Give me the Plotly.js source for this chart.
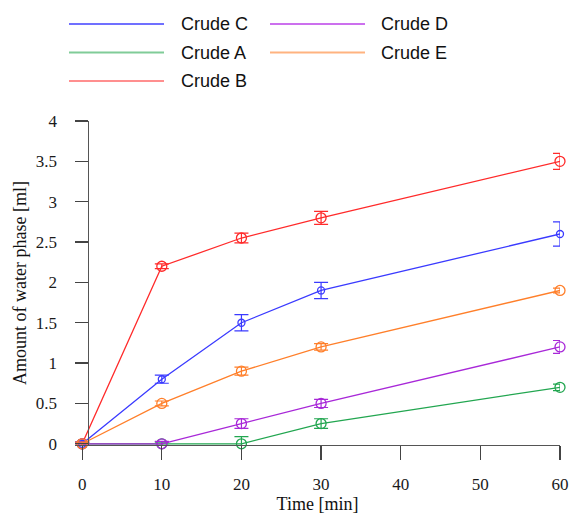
<!DOCTYPE html>
<html>
<head>
<meta charset="utf-8">
<script src="https://cdn.plot.ly/plotly-3.0.1.min.js"></script>
<style>html,body{margin:0;padding:0;background:#fff;}#chart{width:572px;height:515px;}</style>
</head>
<body>
<div id="chart"></div>
<script>
// Data
const timeMin = [0, 10, 20, 30, 60];

const crudeA = [0, 0, 0, 0.25, 0.7];
const crudeAErr = [0.02, 0.02, 0.09, 0.06, 0.04];

const crudeB = [0, 2.2, 2.55, 2.8, 3.5];
const crudeBErr = [0.02, 0.03, 0.06, 0.08, 0.1];

const crudeC = [0, 0.8, 1.5, 1.9, 2.6];
const crudeCErr = [0.02, 0.05, 0.1, 0.1, 0.15];

const crudeD = [0, 0, 0.25, 0.5, 1.2];
const crudeDErr = [0.02, 0.03, 0.06, 0.05, 0.08];

const crudeE = [0, 0.5, 0.9, 1.2, 1.9];
const crudeEErr = [0.02, 0.03, 0.05, 0.04, 0.03];

const xTicks = [0, 10, 20, 30, 40, 50, 60];
const yTicks = [0, 0.5, 1, 1.5, 2, 2.5, 3, 3.5, 4];
const yTickText = ['0', '0.5', '1', '1.5', '2', '2.5', '3', '3.5', '4'];

const series = [
  {name: 'Crude A', y: crudeA, err: crudeAErr, color: '#22a650', size: 10},
  {name: 'Crude B', y: crudeB, err: crudeBErr, color: '#ff2a2a', size: 10},
  {name: 'Crude C', y: crudeC, err: crudeCErr, color: '#3a3aff', size: 7},
  {name: 'Crude D', y: crudeD, err: crudeDErr, color: '#a828d8', size: 10},
  {name: 'Crude E', y: crudeE, err: crudeEErr, color: '#ff7f2a', size: 10}
];

const traces = series.map(s => ({
  type: 'scatter',
  mode: 'lines+markers',
  name: s.name,
  x: timeMin,
  y: s.y,
  cliponaxis: false,
  line: {color: s.color, width: 1.3},
  marker: {symbol: 'circle-open', size: s.size, color: s.color, line: {width: 1.3, color: s.color}},
  error_y: {type: 'data', array: s.err, visible: true, color: s.color, thickness: 1.2, width: 7},
  showlegend: false
}));

// Legend drawn as shapes + annotations (order as in reference)
const legendOrder = [
  {name: 'Crude C', color: '#7070ff', w: 2, col: 0, row: 0},
  {name: 'Crude D', color: '#cc70ee', w: 2, col: 1, row: 0},
  {name: 'Crude A', color: '#80cc98', w: 2, col: 0, row: 1},
  {name: 'Crude E', color: '#ffb380', w: 2, col: 1, row: 1},
  {name: 'Crude B', color: '#ff2020', w: 1.2, col: 0, row: 2}
];
const L = 75, R = 560, T = 121, B = 445;
const px2x = p => (p - L) / (R - L);
const px2y = p => (B - p) / (B - T);
const colLineStart = [69, 270], colLineEnd = [164, 365], colText = [179, 379];
const rowY = [24, 52.5, 81];
const shapes = [], annotations = [];
legendOrder.forEach(it => {
  shapes.push({type: 'line', xref: 'paper', yref: 'paper',
    x0: px2x(colLineStart[it.col]), x1: px2x(colLineEnd[it.col]),
    y0: px2y(rowY[it.row]), y1: px2y(rowY[it.row]),
    line: {color: it.color, width: it.w}});
  annotations.push({xref: 'paper', yref: 'paper', x: px2x(colText[it.col]), y: px2y(rowY[it.row]),
    xanchor: 'left', yanchor: 'middle', showarrow: false, text: it.name,
    font: {family: 'Liberation Sans, Arial, sans-serif', size: 18, color: '#111'}});
});

const axisFont = {family: 'Liberation Serif, Times New Roman, serif', size: 17, color: '#1a1a1a'};

const layout = {
  width: 572, height: 515,
  margin: {l: L, r: 572 - R, t: T, b: 515 - B, pad: 0},
  paper_bgcolor: '#fff', plot_bgcolor: '#fff',
  showlegend: false,
  xaxis: {
    range: [-0.9, 60], tickvals: xTicks, ticktext: xTicks.map(String),
    showgrid: false, zeroline: false, showline: true, linecolor: '#555', linewidth: 1.3,
    ticks: 'outside', ticklen: 14, tickwidth: 1.3, tickcolor: '#444',
    ticklabelstandoff: 9, tickfont: axisFont,
    title: {text: 'Time [min]', font: {family: 'Liberation Serif, Times New Roman, serif', size: 18, color: '#111'}, standoff: 3}
  },
  yaxis: {
    range: [-0.015, 4], tickvals: yTicks, ticktext: yTickText,
    anchor: 'free', position: px2x(87.5),
    showgrid: false, zeroline: false, showline: true, linecolor: '#555', linewidth: 1.3,
    ticks: 'outside', ticklen: 13, tickwidth: 1.3, tickcolor: '#444',
    ticklabelstandoff: 14, tickfont: axisFont,
    title: {text: 'Amount of water phase [ml]', font: {family: 'Liberation Serif, Times New Roman, serif', size: 18, color: '#111'}, standoff: 3}
  },
  shapes: shapes,
  annotations: annotations
};

Plotly.newPlot('chart', traces, layout, {displayModeBar: false, staticPlot: true});
</script>
</body>
</html>
